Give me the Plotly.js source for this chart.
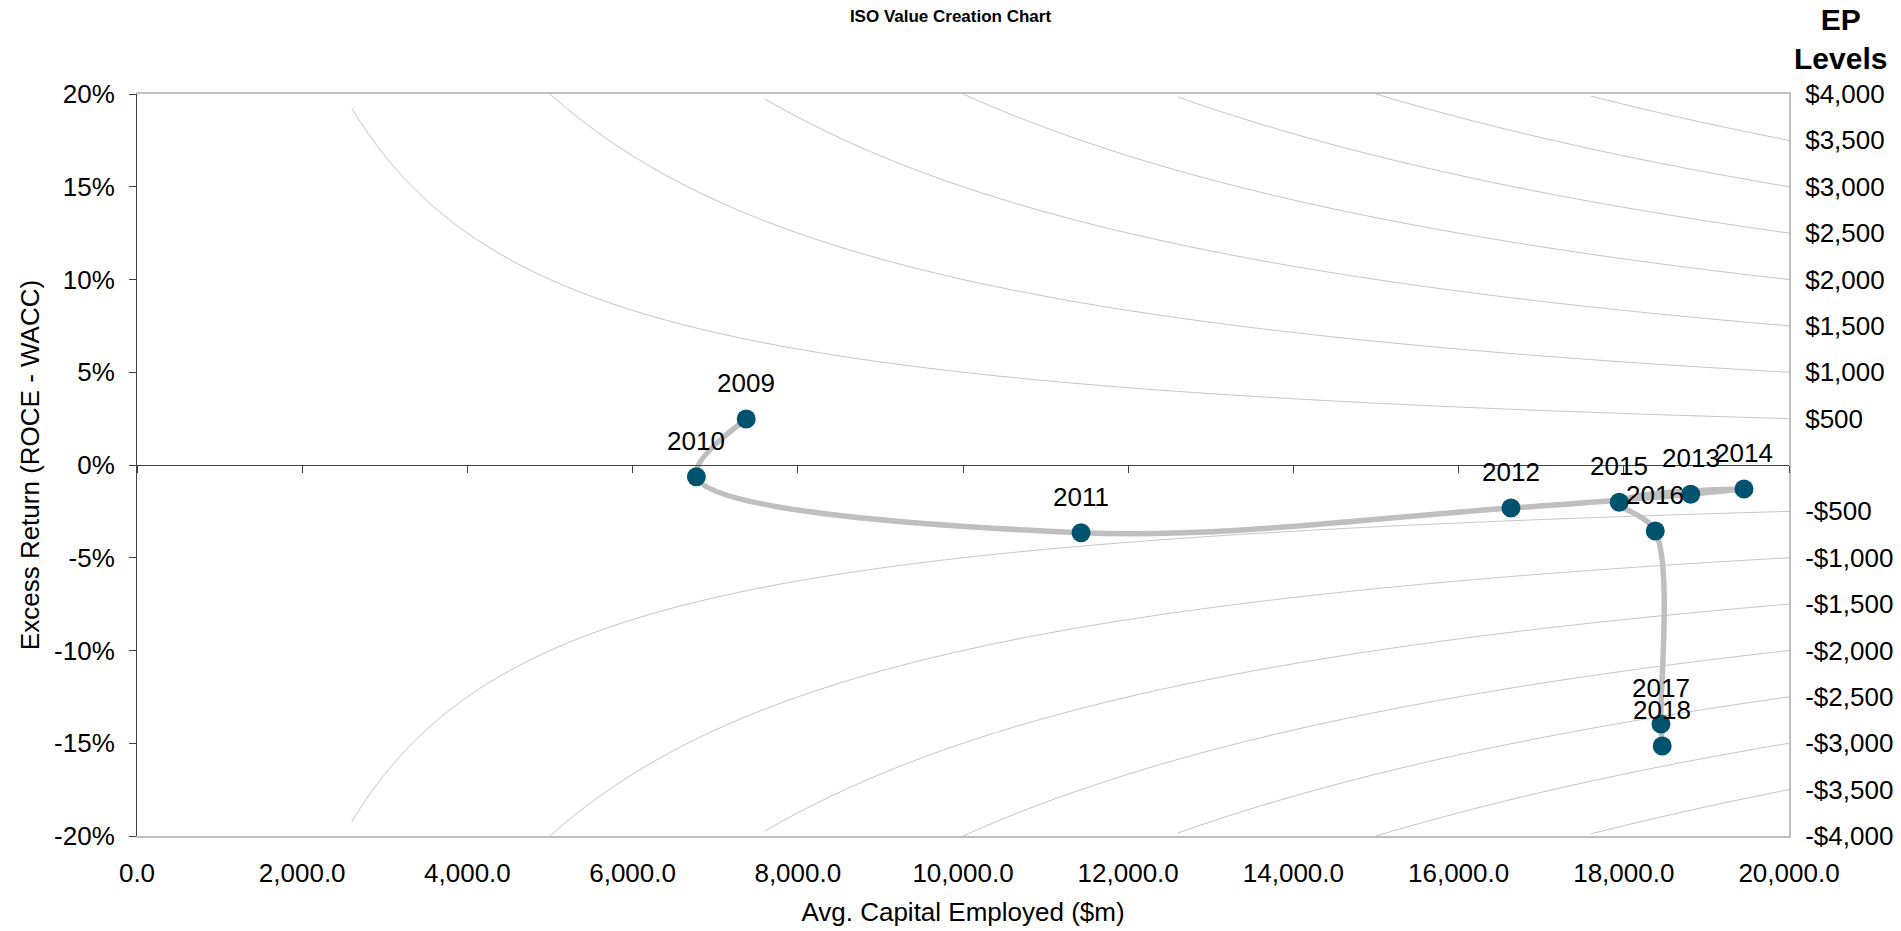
<!DOCTYPE html>
<html>
<head>
<meta charset="utf-8">
<script src="https://cdn.plot.ly/plotly-3.0.1.min.js"></script>
<style>
  html, body { margin: 0; padding: 0; background: #ffffff; }
  #chart { width: 1901px; height: 931px; }
</style>
</head>
<body>
<div id="chart"></div>
<script>
// ---- Data ----
const years = ['2009', '2010', '2011', '2012', '2013', '2014', '2015', '2016', '2017', '2018'];
const capitalEmployed = [7375, 6772, 11429, 16634, 18810, 19455, 17945, 18381, 18450, 18465];
const excessReturn = [0.0248, -0.0063, -0.0365, -0.0232, -0.0158, -0.0129, -0.0201, -0.0356, -0.1396, -0.1515];

// EP iso-curve levels ($m) and right axis labels
const epLevels = [500, 1000, 1500, 2000, 2500, 3000, 3500, 4000, -500, -1000, -1500, -2000, -2500, -3000, -3500, -4000];
const epTickVals = [4000, 3500, 3000, 2500, 2000, 1500, 1000, 500, -500, -1000, -1500, -2000, -2500, -3000, -3500, -4000];
const epTickText = ['$4,000', '$3,500', '$3,000', '$2,500', '$2,000', '$1,500', '$1,000', '$500',
                    '-$500', '-$1,000', '-$1,500', '-$2,000', '-$2,500', '-$3,000', '-$3,500', '-$4,000'];

// Axis ticks
const xTickVals = [0, 2000, 4000, 6000, 8000, 10000, 12000, 14000, 16000, 18000, 20000];
const xTickText = ['0.0', '2,000.0', '4,000.0', '6,000.0', '8,000.0', '10,000.0', '12,000.0', '14,000.0', '16,000.0', '18,000.0', '20,000.0'];
const yTickVals = [-0.2, -0.15, -0.1, -0.05, 0, 0.05, 0.1, 0.15, 0.2];
const yTickText = ['-20%', '-15%', '-10%', '-5%', '0%', '5%', '10%', '15%', '20%'];

// Capital grid on which the iso curves (EP = capital x excess return) are evaluated
const curveCapital = [];
for (let c = 200; c <= 20000; c += 200) curveCapital.push(c);

const FONT = 'Liberation Sans, Arial, Helvetica, sans-serif';
const traces = [];

// Iso EP curves
epLevels.forEach(function (ep) {
  const xs = [], ys = [];
  curveCapital.forEach(function (c) {
    const r = ep / c;
    if (Math.abs(r) <= 0.2 + 1e-9) { xs.push(c); ys.push(r); }
  });
  traces.push({
    type: 'scatter', mode: 'lines', x: xs, y: ys,
    line: { color: '#c6c6c6', width: 1, shape: 'spline', smoothing: 1 },
    hoverinfo: 'skip', showlegend: false
  });
});

// Path line (smoothed)
traces.push({
  type: 'scatter', mode: 'lines', x: capitalEmployed, y: excessReturn,
  line: { color: '#bfbfbf', width: 5.5, shape: 'spline', smoothing: 1 },
  hoverinfo: 'skip', showlegend: false
});

// Markers
traces.push({
  type: 'scatter', mode: 'markers', x: capitalEmployed, y: excessReturn,
  marker: { color: '#00536f', size: 19 },
  text: years, hovertemplate: '%{text}<extra></extra>', showlegend: false
});

// Dummy traces to activate extra axes
traces.push({ type: 'scatter', mode: 'markers', x: [null], y: [null], xaxis: 'x2', yaxis: 'y', hoverinfo: 'skip', showlegend: false });
traces.push({ type: 'scatter', mode: 'markers', x: [null], y: [null], xaxis: 'x', yaxis: 'y2', hoverinfo: 'skip', showlegend: false });

// Data labels
const annotations = years.map(function (yr, i) {
  return {
    x: capitalEmployed[i], y: excessReturn[i], xref: 'x', yref: 'y',
    text: yr, showarrow: false, yshift: 36, yanchor: 'middle', xanchor: 'center',
    font: { family: FONT, size: 26, color: '#000000' }
  };
});
annotations.push({
  xref: 'paper', yref: 'paper', x: 1.031, y: 1.074, xanchor: 'center', yanchor: 'middle',
  text: '<b>EP</b><br><b>Levels</b>', showarrow: false, align: 'center',
  font: { family: FONT, size: 30, color: '#000000' }
});

const layout = {
  width: 1901, height: 931,
  margin: { l: 137, r: 112, t: 94, b: 95 },
  paper_bgcolor: '#ffffff', plot_bgcolor: '#ffffff',
  font: { family: FONT, size: 26, color: '#000000' },
  title: {
    text: '<b>ISO Value Creation Chart</b>',
    font: { family: FONT, size: 17, color: '#000000' },
    x: 0.5, xref: 'container', xanchor: 'center',
    y: 0.983, yref: 'container', yanchor: 'middle'
  },
  xaxis: {
    range: [0, 20000], tickvals: xTickVals, ticktext: xTickText,
    showgrid: false, zeroline: false, ticks: '',
    showline: true, linecolor: '#bfbfbf', linewidth: 2, mirror: true,
    ticklabelstandoff: 13,
    tickfont: { family: FONT, size: 26, color: '#000000' },
    title: { text: 'Avg. Capital Employed ($m)', font: { family: FONT, size: 26, color: '#000000' }, standoff: 16 },
    fixedrange: true
  },
  xaxis2: {
    overlaying: 'x', anchor: 'free', position: 0.5, side: 'bottom',
    range: [0, 20000], tickvals: xTickVals, showticklabels: false,
    ticks: 'outside', ticklen: 7, tickcolor: '#404040', tickwidth: 1,
    showline: true, linecolor: '#404040', linewidth: 1,
    showgrid: false, zeroline: false, fixedrange: true
  },
  yaxis: {
    range: [-0.2, 0.2], tickvals: yTickVals, ticktext: yTickText,
    showgrid: false, zeroline: false,
    ticks: 'outside', ticklen: 7, tickcolor: '#404040', tickwidth: 1,
    showline: true, linecolor: '#404040', linewidth: 1,
    ticklabelstandoff: 9,
    tickfont: { family: FONT, size: 26, color: '#000000' },
    title: { text: 'Excess Return (ROCE - WACC)', font: { family: FONT, size: 26, color: '#000000' }, standoff: 6 },
    fixedrange: true
  },
  yaxis2: {
    overlaying: 'y', side: 'right', anchor: 'x',
    range: [-4000, 4000], tickvals: epTickVals, ticktext: epTickText,
    showgrid: false, zeroline: false, ticks: '',
    showline: true, linecolor: '#bfbfbf', linewidth: 2,
    ticklabelstandoff: 9,
    tickfont: { family: FONT, size: 26, color: '#000000' },
    fixedrange: true
  },
  annotations: annotations,
  showlegend: false
};

Plotly.newPlot('chart', traces, layout, { displayModeBar: false, staticPlot: false });
</script>
</body>
</html>
